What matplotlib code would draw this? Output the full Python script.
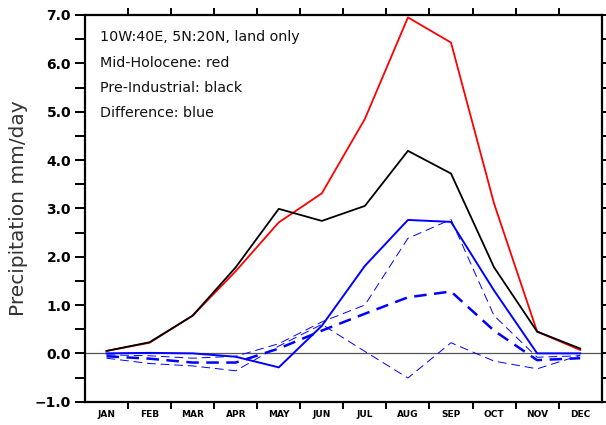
import matplotlib
matplotlib.use("Agg")
import matplotlib.pyplot as plt
import numpy as np

months = ["JAN", "FEB", "MAR", "APR", "MAY", "JUN", "JUL", "AUG", "SEP", "OCT", "NOV", "DEC"]
mid_holocene = [0.05, 0.22, 0.78, 1.70, 2.71, 3.31, 4.85, 6.95, 6.43, 3.10, 0.45, 0.07]
pre_industrial = [0.05, 0.23, 0.78, 1.78, 2.99, 2.74, 3.05, 4.19, 3.72, 1.78, 0.45, 0.10]
difference = [0.00, 0.01, 0.00, -0.07, -0.29, 0.57, 1.81, 2.76, 2.72, 1.30, 0.00, 0.00]
diff_thick = [-0.06, -0.11, -0.19, -0.19, 0.10, 0.47, 0.82, 1.16, 1.28, 0.47, -0.14, -0.10]
diff_thin1 = [-0.03, -0.05, -0.10, -0.06, 0.20, 0.65, 1.00, 2.38, 2.77, 0.78, -0.08, -0.05]
diff_thin2 = [-0.10, -0.21, -0.26, -0.36, 0.15, 0.60, 0.04, -0.51, 0.22, -0.16, -0.32, -0.04]
annotations = ["10W:40E, 5N:20N, land only", "Mid-Holocene: red",
               "Pre-Industrial: black", "Difference: blue"]

x = np.arange(1, 13)

fig = plt.figure(figsize=(6.06, 4.25), dpi=100)
ax = fig.add_axes([85/606, (425-401.7)/425, (601.7-85)/606, (401.7-15)/425])

ax.axhline(0, color="#555555", lw=0.9, zorder=1)
ax.plot(x, mid_holocene, color="red", lw=1.3, zorder=3)
ax.plot(x, pre_industrial, color="black", lw=1.3, zorder=3)
ax.plot(x, difference, color="blue", lw=1.4, zorder=4)
ax.plot(x, diff_thick, color="blue", lw=1.8, ls=(0, (5, 3)), zorder=3)
ax.plot(x, diff_thin1, color="blue", lw=0.7, ls=(0, (9, 5)), zorder=2)
ax.plot(x, diff_thin2, color="blue", lw=0.7, ls=(0, (9, 5)), zorder=2)

ax.set_xlim(0.5, 12.5)
ax.set_ylim(-1.0, 7.0)

ax.set_xticks(x)
ax.set_xticklabels(months, fontsize=6.5, fontweight="bold")
ax.set_xticks(np.arange(1.5, 12.5, 1.0), minor=True)
ax.tick_params(axis="x", which="major", length=0, pad=6)
ax.tick_params(axis="x", which="minor", length=5, width=1.4, direction="out",
               top=True, bottom=True)

yt = np.arange(-1.0, 7.01, 1.0)
ax.set_yticks(yt)
ax.set_yticklabels([f"{v:.1f}".replace("-", "\u2212") for v in yt], fontsize=10, fontweight="bold")
ax.set_yticks(np.arange(-0.5, 7.0, 1.0), minor=True)
ax.tick_params(axis="y", which="both", length=7, width=1.4, direction="out",
               left=True, right=True, pad=3)

for s in ax.spines.values():
    s.set_linewidth(1.6)

ax.set_ylabel("Precipitation mm/day", fontsize=14.5, color="#333333", labelpad=5)

ys = [0.943, 0.876, 0.811, 0.746]
for t, yy in zip(annotations, ys):
    ax.text(15/517, yy, t, transform=ax.transAxes, fontsize=10.3, va="center", ha="left",
            color="#111111")

fig.savefig("out.png", dpi=100)
